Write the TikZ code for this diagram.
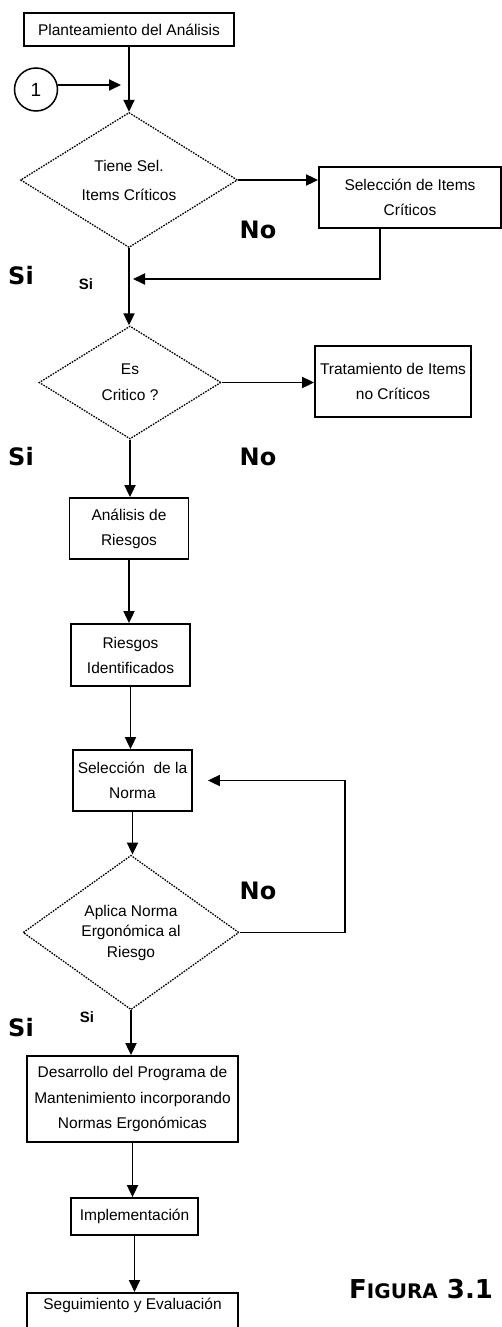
\documentclass[tikz,border=0pt]{standalone}
\usepackage{fontspec}
\setmainfont{Liberation Sans}
\newfontfamily\labelfont{DejaVu Sans}
\usetikzlibrary{shapes.geometric,arrows.meta,calc}
\begin{document}
\begin{tikzpicture}[x=1pt,y=-1pt,
  box/.style={draw,line width=1.8pt,inner sep=0pt,align=center,
    font=\fontsize{15.5}{25}\selectfont},
  decision/.style={diamond,draw,line width=1.3pt,dash pattern=on 1.6pt off 1.2pt,
    inner sep=0pt,align=center},
  arr/.style={line width=1.8pt,-{Triangle[length=12pt,width=11pt]}},
  yesno/.style={font=\labelfont\bfseries\fontsize{24}{24}\selectfont,inner sep=0pt},
  smallsi/.style={font=\bfseries\fontsize{15}{15}\selectfont,inner sep=0pt}]
\useasboundingbox (0,0) rectangle (502,1327);
\clip (0,0) rectangle (502,1327);

% process steps and decisions
\node[box,minimum width=210pt,minimum height=33pt] (plan) at (129,29.5) {Planteamiento del Análisis};
\node[draw,circle,line width=1.5pt,minimum size=43pt,inner sep=0pt,font=\fontsize{19}{19}\selectfont] (c1) at (36,89.5) {1};
\node[decision,minimum width=217pt,minimum height=126pt,font=\fontsize{15.5}{29}\selectfont] (d1) at (129,180) {Tiene Sel.\\Items Críticos};
\node[box,minimum width=182pt,minimum height=61pt] (selit) at (410,197.5) {Selección de Items\\Críticos};
\node[decision,minimum width=182pt,minimum height=113pt,font=\fontsize{15.5}{26}\selectfont] (d2) at (130,382.5) {Es\\Critico ?};
\node[box,minimum width=156pt,minimum height=71pt] (trat) at (393,381.5) {Tratamiento de Items\\no Críticos};
\node[box,minimum width=119pt,minimum height=61pt] (ana) at (129,528.5) {Análisis de\\Riesgos};
\node[box,minimum width=119pt,minimum height=62pt] (rid) at (130.5,655) {Riesgos\\Identificados};
\node[box,minimum width=119pt,minimum height=61pt] (norma) at (132.5,780.5) {Selección~ de la\\Norma};
\node[decision,minimum width=216pt,minimum height=133pt,font=\fontsize{15.5}{20.5}\selectfont] (d3) at (131,932.5) {Aplica Norma\\Ergonómica al\\Riesgo};
\node[box,minimum width=211pt,minimum height=86pt,font=\fontsize{15.5}{25.5}\selectfont] (des) at (132.5,1099) {Desarrollo del Programa de\\Mantenimiento incorporando\\Normas Ergonómicas};
\node[box,minimum width=127pt,minimum height=37pt] (imp) at (134.5,1216.5) {Implementación};
\node[box,anchor=north,minimum width=211pt,minimum height=45pt,text height=11pt,text depth=22pt] (seg) at (132.5,1292) {Seguimiento y Evaluación};

% branch labels
\node[yesno] (no1) at (258,229.5) {No};
\node[yesno] (si1) at (21,275.5) {Si};
\node[smallsi] (si1b) at (86,284) {Si};
\node[yesno] (si2) at (21,457) {Si};
\node[yesno] (no2) at (258,457) {No};
\node[yesno] (no3) at (258,891) {No};
\node[yesno] (si3) at (21,1027.5) {Si};
\node[smallsi] (si3b) at (87,1017) {Si};
\node[anchor=base west,inner sep=0pt,font=\labelfont\bfseries] (fig) at (349,1298)
  {\fontsize{26}{26}\selectfont F\fontsize{20}{20}\selectfont IGURA\fontsize{26}{26}\selectfont{} 3.1};

% connectors
\coordinate (c1end) at (121,85);
\draw[arr] (c1.east |- c1end) -- (c1end);
\draw[arr] (plan.south) -- (plan.south |- d1.north);
\draw[arr] (d1.east) -- (d1.east -| selit.west);
\coordinate (join1) at (133,279);
\draw[arr] ($(selit.south)+(-30,0)$) |- (join1);
\draw[arr] (d1.south) -- (d1.south |- d2.north);
\draw[arr] (d2.east) -- (d2.east -| trat.west);
\draw[arr] (d2.south) -- (d2.south |- ana.north);
\draw[arr] (ana.south) -- (ana.south |- rid.north);
\draw[arr] (rid.south) -- (rid.south |- norma.north);
\draw[arr] (norma.south) -- (norma.south |- d3.north);
\draw[arr] (d3.east) -- ++(105,0) |- ([xshift=15pt]norma.east);
\draw[arr] (d3.south) -- (d3.south |- des.north);
\draw[arr] (des.south) -- (des.south |- imp.north);
\draw[arr] (imp.south) -- (imp.south |- seg.north);
\end{tikzpicture}
\end{document}
